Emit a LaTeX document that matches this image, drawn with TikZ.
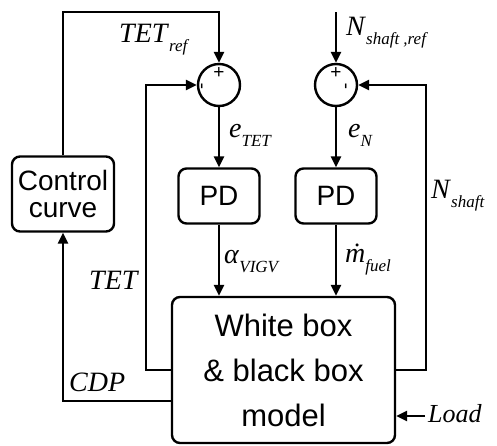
\documentclass[tikz,border=0pt]{standalone}
\usepackage{fontspec}
\setmainfont{Liberation Serif}
\setsansfont{Liberation Sans}
\usetikzlibrary{arrows.meta}
\newcommand{\lab}[2]{\textit{#1}\raisebox{-0.33em}{\fontsize{17}{17}\selectfont\textit{#2}}}

\begin{document}
\begin{tikzpicture}[x=1pt,y=-1pt,line width=2.4pt,
  arr/.style={-{Triangle[length=11pt,width=10pt]}},
  blk/.style={draw,rounded corners=8pt,font=\sffamily\fontsize{28}{27}\selectfont,align=center,inner sep=0pt},
  sum/.style={draw,circle,minimum size=42pt,inner sep=0pt},
  sgn/.style={font=\sffamily\fontsize{19}{19}\selectfont,inner sep=0pt},
  lbl/.style={font=\fontsize{28}{28}\selectfont,inner sep=0pt,anchor=base west}]
  \useasboundingbox (0,0) rectangle (497,445);

  \node[sum] (sum1) at (219,85) {};
  \node[sum] (sum2) at (336,85) {};
  \node[sgn] (plus1) at (219,73) {+};
  \node[sgn,rotate=90] (minus1) at (204,86) {-};
  \node[sgn] (plus2) at (336,73) {+};
  \node[sgn,rotate=90] (minus2) at (348,86) {-};

  \node[blk,minimum width=81pt,minimum height=55pt] (pd1) at (219,196) {PD};
  \node[blk,minimum width=81pt,minimum height=55pt] (pd2) at (336,196) {PD};
  \node[blk,minimum width=102pt,minimum height=75pt] (ctrl) at (63,194) {Control\\curve};
  \node[blk,minimum width=223pt,minimum height=146pt,font=\sffamily\fontsize{31}{45}\selectfont] (model) at (283.5,370) {White box\\\& black box\\model};

  \coordinate (ctop) at (63,12);
  \coordinate (ntop) at (336,12);
  \coordinate (ld) at (425,416);

  \draw[arr] (ctrl.north) -- (ctop) -| (sum1.north);
  \draw[arr] (ntop) -- (sum2.north);
  \draw[arr] (sum1) -- (pd1);
  \draw[arr] (sum2) -- (pd2);
  \draw[arr] (pd1) -- (pd1 |- model.north);
  \draw[arr] (pd2) -- (pd2 |- model.north);
  \draw[arr] (model.west) -- ++(-25,0) |- (sum1.west);
  \draw[arr] (model.east) -- ++(30,0) |- (sum2.east);
  \draw[arr] ([yshift=-31pt]model.west) -| (ctrl.south);
  \draw[arr] (ld) -- (ld -| model.east);

  \node[lbl] (tetref) at (118,42) {\lab{TET}{ref}};
  \node[lbl] (nref) at (345,35) {\lab{N}{shaft ,ref}};
  \node[lbl] (etet) at (228,137) {\lab{e}{TET}};
  \node[lbl] (en) at (347,137) {\lab{e}{N}};
  \node[lbl] (alpha) at (223,263) {\lab{α}{VIGV}};
  \node[lbl] (mfuel) at (344,262) {\lab{\.{m}}{fuel}};
  \node[lbl] (tet) at (88,289) {\textit{TET}};
  \node[lbl] (nshaft) at (430,198) {\lab{N}{shaft}};
  \node[lbl] (cdp) at (68,391) {\textit{CDP}};
  \node[lbl,font=\fontsize{26}{26}\selectfont] (load) at (427,422) {\textit{Load}};
\end{tikzpicture}
\end{document}
